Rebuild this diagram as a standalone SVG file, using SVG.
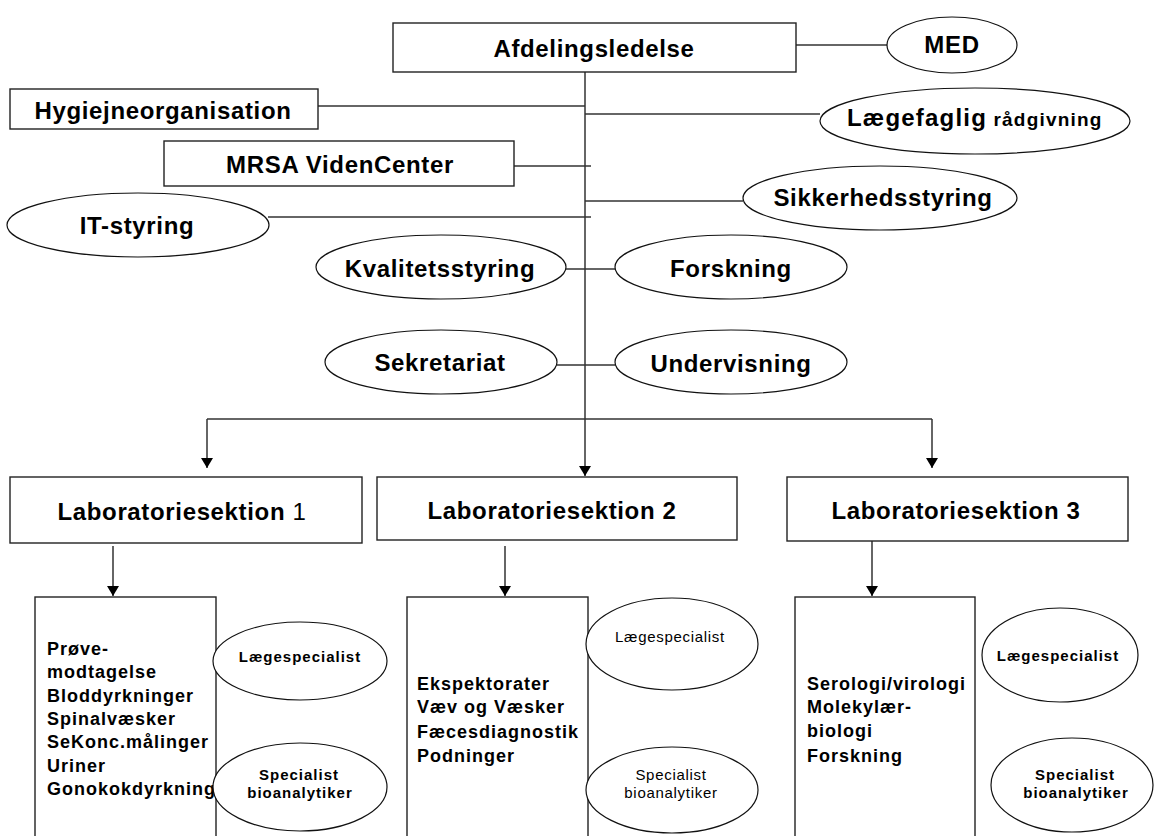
<svg xmlns="http://www.w3.org/2000/svg" width="1155" height="836" viewBox="0 0 1155 836">
<defs>
<style>
.box{fill:#fff;stroke:#222;stroke-width:1.4}
.ell{fill:#fff;stroke:#111;stroke-width:1.2}
.ln{fill:none;stroke:#333;stroke-width:1.5}
text{font-family:"Liberation Sans",Arial,sans-serif;fill:#000}
.t24{font-size:24px;font-weight:bold;letter-spacing:0.65px}
.t18{font-size:18px;font-weight:bold;letter-spacing:1px}
.t15b{font-size:15px;font-weight:bold;letter-spacing:1px}
.t15{font-size:15px;letter-spacing:0.7px}
.mid{text-anchor:middle}
</style>
<marker id="ah" markerWidth="12" markerHeight="12" refX="10" refY="6" orient="auto" markerUnits="userSpaceOnUse" viewBox="0 0 12 12">
<path d="M0,0 L10,6 L0,12 Z" fill="#000"/>
</marker>
</defs>
<rect width="1155" height="836" fill="#fff"/>
<g id="connectors">
<line class="ln" x1="585" y1="72" x2="585" y2="476" marker-end="url(#ah)"/>
<line class="ln" x1="796" y1="45" x2="887" y2="45"/>
<line class="ln" x1="318" y1="106" x2="585" y2="106"/>
<line class="ln" x1="585" y1="114" x2="820" y2="114"/>
<line class="ln" x1="514" y1="166" x2="591" y2="166"/>
<line class="ln" x1="585" y1="201" x2="743" y2="201"/>
<line class="ln" x1="268" y1="217" x2="591" y2="217"/>
<line class="ln" x1="566" y1="269" x2="615" y2="269"/>
<line class="ln" x1="557" y1="365" x2="615" y2="365"/>
<line class="ln" x1="207" y1="419" x2="932" y2="419"/>
<line class="ln" x1="207" y1="419" x2="207" y2="468" marker-end="url(#ah)"/>
<line class="ln" x1="932" y1="419" x2="932" y2="468" marker-end="url(#ah)"/>
<line class="ln" x1="113" y1="546" x2="113" y2="596" marker-end="url(#ah)"/>
<line class="ln" x1="505" y1="546" x2="505" y2="596" marker-end="url(#ah)"/>
<line class="ln" x1="872" y1="541" x2="872" y2="596" marker-end="url(#ah)"/>
</g>
<g id="afdelingsledelse">
<rect class="box" x="393" y="23" width="403" height="49"/>
<text class="t24 mid" x="594" y="57">Afdelingsledelse</text>
</g>
<g id="med">
<ellipse class="ell" cx="952" cy="45" rx="65" ry="28"/>
<text class="t24 mid" x="952" y="53">MED</text>
</g>
<g id="hygiejne">
<rect class="box" x="10" y="89" width="308" height="40"/>
<text class="t24 mid" x="163" y="119">Hygiejneorganisation</text>
</g>
<g id="laegefaglig">
<ellipse class="ell" cx="975" cy="121" rx="155" ry="33"/>
<text x="847" y="126" font-weight="bold"><tspan font-size="24" letter-spacing="1.2">Lægefaglig</tspan><tspan font-size="19" letter-spacing="1.2"> rådgivning</tspan></text>
</g>
<g id="mrsa">
<rect class="box" x="164" y="141" width="350" height="45"/>
<text class="t24 mid" x="340" y="173">MRSA VidenCenter</text>
</g>
<g id="sikkerhed">
<ellipse class="ell" cx="880" cy="198" rx="137" ry="32"/>
<text class="t24 mid" x="883" y="206">Sikkerhedsstyring</text>
</g>
<g id="it">
<ellipse class="ell" cx="138" cy="225" rx="131" ry="32"/>
<text class="t24 mid" x="137" y="234">IT-styring</text>
</g>
<g id="kvalitet">
<ellipse class="ell" cx="441" cy="267" rx="125" ry="32"/>
<text class="t24 mid" x="440" y="277">Kvalitetsstyring</text>
</g>
<g id="forskning">
<ellipse class="ell" cx="731" cy="267" rx="116" ry="32"/>
<text class="t24 mid" x="731" y="277">Forskning</text>
</g>
<g id="sekretariat">
<ellipse class="ell" cx="441" cy="362" rx="116" ry="32"/>
<text class="t24 mid" x="440" y="371">Sekretariat</text>
</g>
<g id="undervisning">
<ellipse class="ell" cx="731" cy="362" rx="116" ry="32"/>
<text class="t24 mid" x="731" y="372">Undervisning</text>
</g>
<g id="lab1">
<rect class="box" x="10" y="477" width="352" height="66"/>
<text x="182" y="520" class="mid" font-size="24" letter-spacing="0.65"><tspan font-weight="bold">Laboratoriesektion</tspan> 1</text>
</g>
<g id="lab2">
<rect class="box" x="377" y="477" width="360" height="63"/>
<text class="t24 mid" x="552" y="519">Laboratoriesektion 2</text>
</g>
<g id="lab3">
<rect class="box" x="787" y="477" width="341" height="64"/>
<text class="t24 mid" x="956" y="519">Laboratoriesektion 3</text>
</g>
<g id="sek1">
<rect class="box" x="35" y="597" width="181" height="260"/>
<text class="t18" x="47" y="655">Prøve-</text>
<text class="t18" x="47" y="678">modtagelse</text>
<text class="t18" x="47" y="702">Bloddyrkninger</text>
<text class="t18" x="47" y="725">Spinalvæsker</text>
<text class="t18" x="47" y="748">SeKonc.målinger</text>
<text class="t18" x="47" y="772">Uriner</text>
<text class="t18" x="47" y="795">Gonokokdyrkning</text>
</g>
<g id="laege1">
<ellipse class="ell" cx="300" cy="661" rx="87" ry="39"/>
<text class="t15b mid" x="300" y="662">Lægespecialist</text>
</g>
<g id="bio1">
<ellipse class="ell" cx="300" cy="787" rx="87" ry="44"/>
<text class="t15b mid" x="299" y="780">Specialist</text>
<text class="t15b mid" x="300" y="798">bioanalytiker</text>
</g>
<g id="sek2">
<rect class="box" x="407" y="597" width="181" height="260"/>
<text class="t18" x="417" y="690">Ekspektorater</text>
<text class="t18" x="417" y="713">Væv og Væsker</text>
<text class="t18" x="417" y="738">Fæcesdiagnostik</text>
<text class="t18" x="417" y="762">Podninger</text>
</g>
<g id="laege2">
<ellipse class="ell" cx="672" cy="644" rx="86" ry="46"/>
<text class="t15 mid" x="670" y="642">Lægespecialist</text>
</g>
<g id="bio2">
<ellipse class="ell" cx="672" cy="790" rx="86" ry="43"/>
<text class="t15 mid" x="671" y="780">Specialist</text>
<text class="t15 mid" x="671" y="798">bioanalytiker</text>
</g>
<g id="sek3">
<rect class="box" x="795" y="597" width="180" height="260"/>
<text class="t18" x="807" y="690">Serologi/virologi</text>
<text class="t18" x="807" y="713">Molekylær-</text>
<text class="t18" x="807" y="737">biologi</text>
<text class="t18" x="807" y="762">Forskning</text>
</g>
<g id="laege3">
<ellipse class="ell" cx="1060" cy="655" rx="78" ry="47"/>
<text class="t15b mid" x="1058" y="661">Lægespecialist</text>
</g>
<g id="bio3">
<ellipse class="ell" cx="1072" cy="785" rx="81" ry="47"/>
<text class="t15b mid" x="1075" y="780">Specialist</text>
<text class="t15b mid" x="1076" y="798">bioanalytiker</text>
</g>
</svg>
